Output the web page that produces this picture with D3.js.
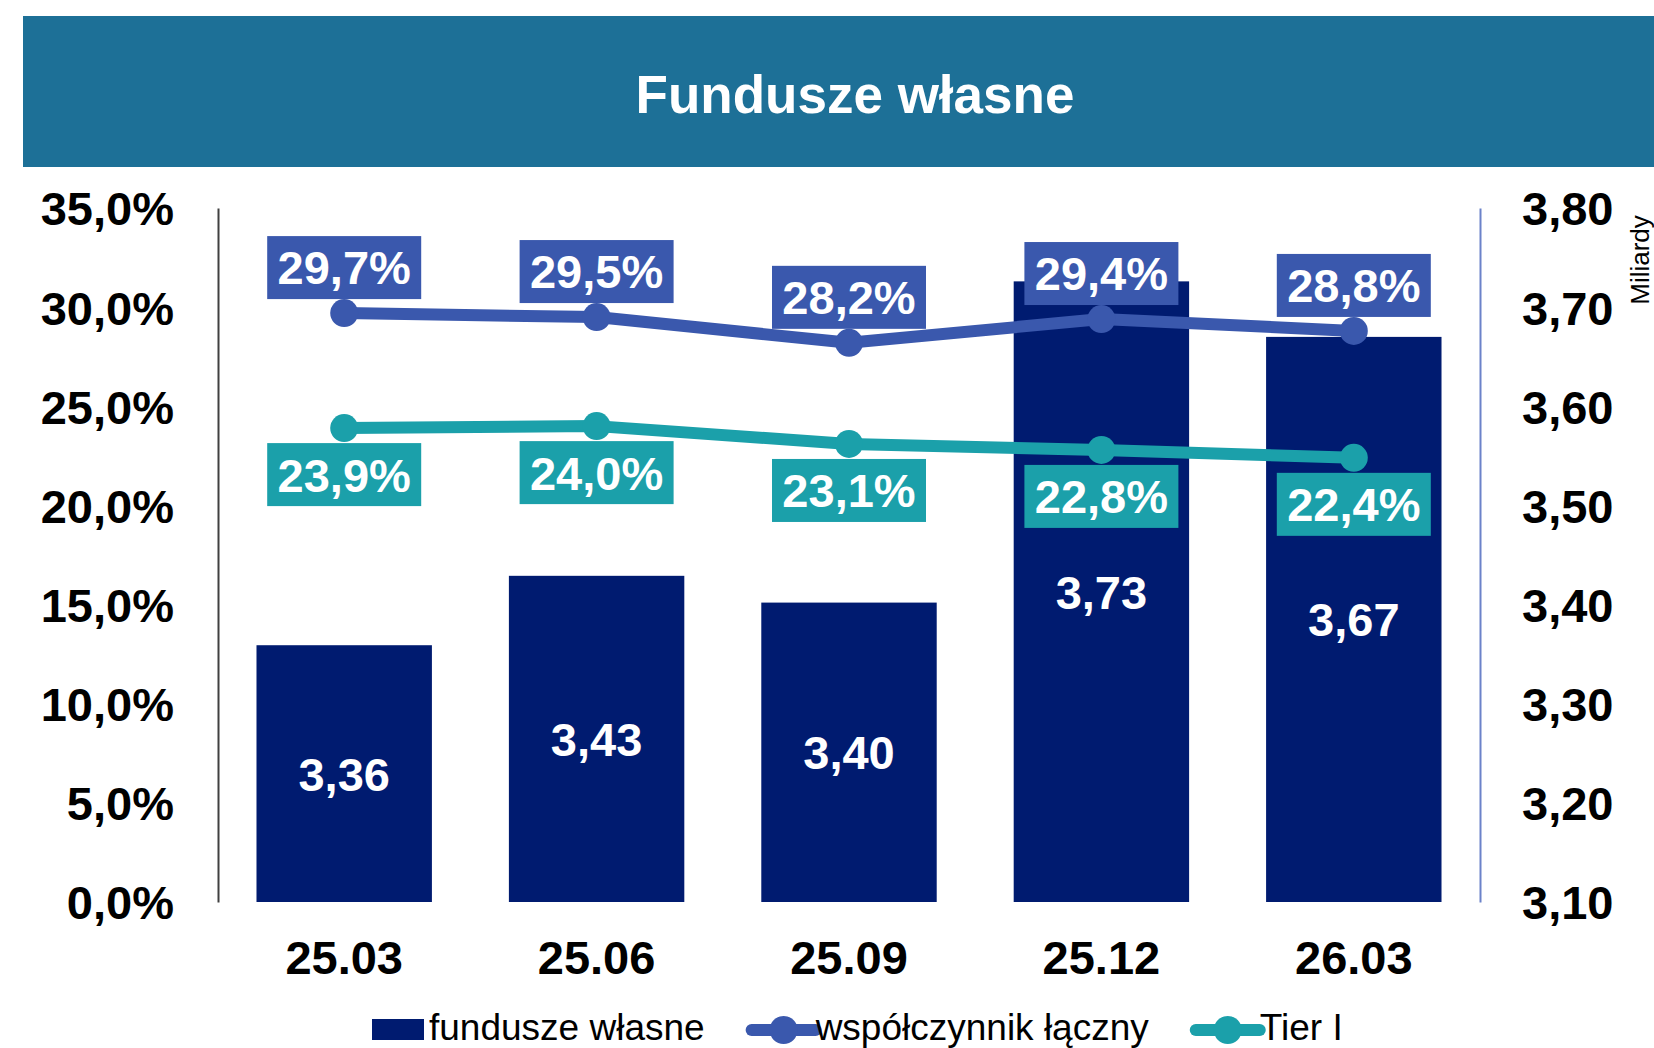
<!DOCTYPE html>
<html lang="pl">
<head>
<meta charset="utf-8"/>
<title>Fundusze własne</title>
<script src="https://d3js.org/d3.v7.min.js"></script>
<style>
  html, body { margin: 0; padding: 0; background: #fff; }
  body { width: 1654px; height: 1048px; overflow: hidden; }
  svg { font-family: "Liberation Sans", Arial, sans-serif; }
</style>
</head>
<body>
<div id="chart"></div>
<script>
// dane
const categories = ["25.03", "25.06", "25.09", "25.12", "26.03"];
const fundusze = [3.359, 3.429, 3.402, 3.726, 3.670];     // mld
const wspolczynnik = [29.7, 29.5, 28.2, 29.4, 28.8];      // %
const tier1 = [23.9, 24.0, 23.1, 22.8, 22.4];             // %
const leftTicks = [0, 5, 10, 15, 20, 25, 30, 35];
const rightTicks = [3.1, 3.2, 3.3, 3.4, 3.5, 3.6, 3.7, 3.8];
const legendNames = ["fundusze własne", "współczynnik łączny", "Tier I"];

const W = 1654, H = 1048;
const colBar = "#001b70", colBlue = "#3a58ad", colTeal = "#1ba0aa";
const fmtPct = d => d.toFixed(1).replace(".", ",") + "%";
const fmtMld = d => d.toFixed(2).replace(".", ",");
const bigFont = "47px";

const svg = d3.select("#chart").append("svg")
    .attr("width", W).attr("height", H);

svg.append("rect").attr("width", W).attr("height", H).attr("fill", "#fff");

// naglowek
svg.append("rect")
    .attr("x", 23).attr("y", 16).attr("width", W - 23).attr("height", 151)
    .attr("fill", "#1d7097");
svg.append("text")
    .attr("x", 855).attr("y", 113)
    .attr("text-anchor", "middle")
    .attr("fill", "#fff")
    .style("font-size", "53px").style("font-weight", "bold")
    .text("Fundusze własne");

const plotL = 218, plotR = 1480, plotT = 208, plotB = 902;

const x = d3.scaleBand().domain(categories).range([plotL, plotR])
    .paddingInner(0.305).paddingOuter(0.1525);
const yL = d3.scaleLinear().domain([0, 35]).range([plotB, plotT]);
const yR = d3.scaleLinear().domain([3.1, 3.8]).range([plotB, plotT]);
const cx = c => x(c) + x.bandwidth() / 2;

// osie
const axL = svg.append("g").attr("transform", `translate(${plotL},0)`)
    .call(d3.axisLeft(yL).tickValues(leftTicks).tickFormat(fmtPct)
        .tickSize(0).tickSizeOuter(0).tickPadding(44));
const axR = svg.append("g").attr("transform", `translate(${plotR},0)`)
    .call(d3.axisRight(yR).tickValues(rightTicks).tickFormat(fmtMld)
        .tickSize(0).tickSizeOuter(0).tickPadding(42));
const axX = svg.append("g").attr("transform", `translate(0,${plotB})`)
    .call(d3.axisBottom(x).tickSize(0).tickPadding(39));

[axL, axR, axX].forEach(a => a.selectAll("text")
    .attr("fill", "#000")
    .style("font-size", bigFont).style("font-weight", "bold")
    .style("font-family", "\"Liberation Sans\", Arial, sans-serif"));
axL.selectAll("text").attr("dy", "0.36em");
axR.selectAll("text").attr("dy", "0.36em");
axL.select(".domain").attr("stroke", "#404040").attr("stroke-width", 2);
axR.select(".domain").attr("stroke", "#6b82c9").attr("stroke-width", 2);
axX.select(".domain").remove();

svg.append("text")
    .attr("transform", "translate(1649,260) rotate(-90)")
    .attr("text-anchor", "middle")
    .attr("fill", "#000")
    .style("font-size", "26px")
    .text("Miliardy");

// slupki
svg.append("g").selectAll("rect")
    .data(categories)
    .join("rect")
    .attr("x", d => x(d))
    .attr("y", (d, i) => yR(fundusze[i]))
    .attr("width", x.bandwidth())
    .attr("height", (d, i) => yR(3.1) - yR(fundusze[i]))
    .attr("fill", colBar);

svg.append("g").selectAll("text")
    .data(categories)
    .join("text")
    .attr("x", d => cx(d))
    .attr("y", (d, i) => (yR(fundusze[i]) + yR(3.1)) / 2)
    .attr("dy", "0.36em")
    .attr("text-anchor", "middle")
    .attr("fill", "#fff")
    .style("font-size", bigFont).style("font-weight", "bold")
    .text((d, i) => fmtMld(fundusze[i]));

// linie
function drawSeries(values, color, above) {
    const g = svg.append("g");
    const line = d3.line().x((d, i) => cx(categories[i])).y(d => yL(d));
    g.append("path").datum(values)
        .attr("d", line)
        .attr("fill", "none")
        .attr("stroke", color)
        .attr("stroke-width", 12)
        .attr("stroke-linejoin", "round");
    const bw = 154, bh = 63;
    const lab = g.selectAll("g.lab").data(values).join("g").attr("class", "lab")
        .attr("transform", (d, i) => {
            const by = above ? yL(d) - 14 - bh : yL(d) + 15;
            return `translate(${cx(categories[i]) - bw / 2},${by})`;
        });
    lab.append("rect").attr("width", bw).attr("height", bh).attr("fill", color);
    lab.append("text")
        .attr("x", bw / 2).attr("y", bh / 2).attr("dy", "0.36em")
        .attr("text-anchor", "middle")
        .attr("fill", "#fff")
        .style("font-size", bigFont).style("font-weight", "bold")
        .text(d => fmtPct(d));
    g.selectAll("circle").data(values).join("circle")
        .attr("cx", (d, i) => cx(categories[i]))
        .attr("cy", d => yL(d))
        .attr("r", 14)
        .attr("fill", color);
}
drawSeries(wspolczynnik, colBlue, true);
drawSeries(tier1, colTeal, false);

// legenda
const legend = svg.append("g");
const legColors = [colBar, colBlue, colTeal];
let lx = 372;
const ly = 1030;
legendNames.forEach((name, i) => {
    const symW = i === 0 ? 52 : 64;
    if (i === 0) {
        legend.append("rect").attr("x", lx).attr("y", ly - 11)
            .attr("width", symW).attr("height", 21).attr("fill", legColors[i]);
    } else {
        legend.append("line")
            .attr("x1", lx).attr("x2", lx + symW).attr("y1", ly).attr("y2", ly)
            .attr("stroke", legColors[i]).attr("stroke-width", 12)
            .attr("stroke-linecap", "round");
        legend.append("circle").attr("cx", lx + symW / 2).attr("cy", ly)
            .attr("r", 14).attr("fill", legColors[i]);
    }
    const t = legend.append("text")
        .attr("x", lx + symW + (i === 0 ? 5 : 0)).attr("y", 1040)
        .attr("fill", "#000")
        .style("font-size", "37px")
        .text(name);
    lx = lx + symW + (i === 0 ? 5 : 0) + t.node().getComputedTextLength() + 47;
});
</script>
</body>
</html>
